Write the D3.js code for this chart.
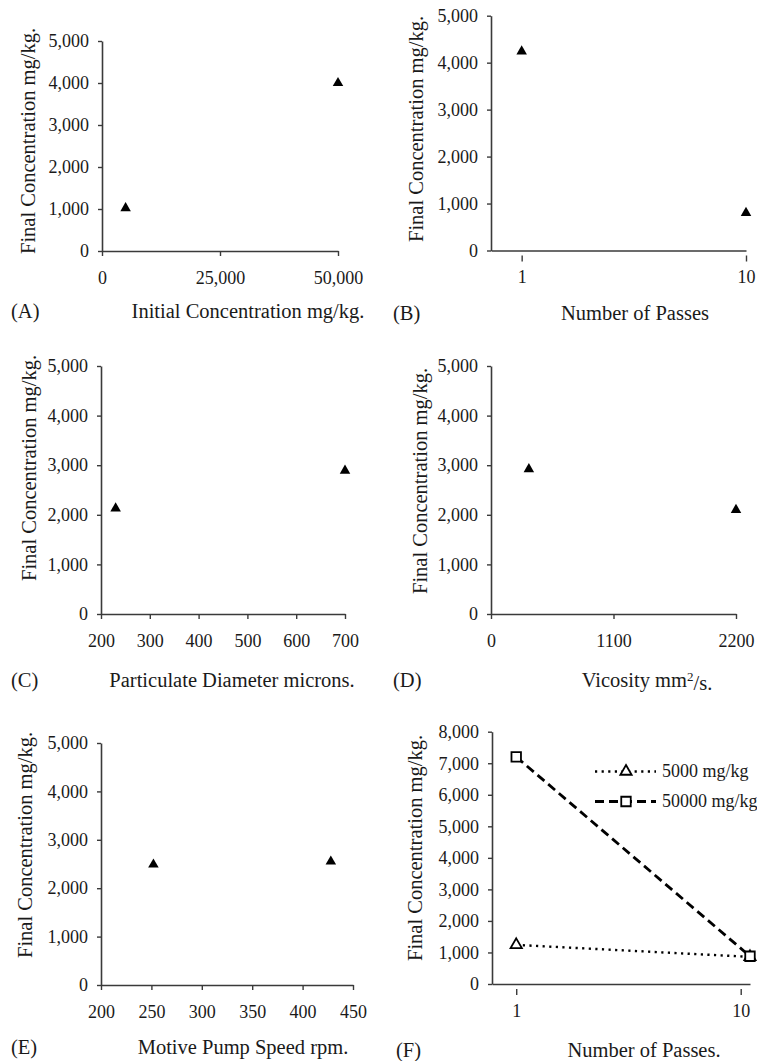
<!DOCTYPE html>
<html>
<head>
<meta charset="utf-8">
<script src="https://cdn.jsdelivr.net/npm/d3@7/dist/d3.min.js"></script>
<style>
  body { margin: 0; background: #fff; }
  text { font-family: "Liberation Serif", "Times New Roman", serif; fill: #1a1a1a; }
</style>
</head>
<body>
<div id="chart"></div>
<script>
// values
var initConc      = [5000, 50000];
var initConcFinal = [1020, 4000];
var passesB       = [1, 10];
var passesBFinal  = [4240, 800];
var diameter      = [230, 700];
var diameterFinal = [2130, 2890];
var viscosity     = [340, 2200];
var viscosityFinal = [2920, 2100];
var pumpSpeed     = [252, 428];
var pumpSpeedFinal = [2490, 2550];
var passesF       = [1, 11];
var final5000     = [1240, 860];
var final50000    = [7200, 880];
var seriesNames   = ['5000 mg/kg', '50000 mg/kg'];

var yTicks5k  = [0, 1000, 2000, 3000, 4000, 5000];
var yTicks8k  = [0, 1000, 2000, 3000, 4000, 5000, 6000, 7000, 8000];
var xTicksA   = [0, 25000, 50000];
var xTicksLog = [1, 10];
var xTicksC   = [200, 300, 400, 500, 600, 700];
var xTicksD   = [0, 1100, 2200];
var xTicksE   = [200, 250, 300, 350, 400, 450];

(function() {
    'use strict';

    var width = 757, height = 1061;
    var axisColor = '#3a3a3a';

    var svg = d3.select('#chart')
      .append('svg')
        .attr('width', width)
        .attr('height', height);

    svg.append('rect')
        .attr('width', width)
        .attr('height', height)
        .attr('fill', 'white');

    /*
     * one panel: axes, labels, letter; returns the group
     */
    function panel(c) {
        var g = svg.append('g');

        var xAxis = d3.axisBottom(c.x)
            .tickValues(c.xTicks)
            .tickFormat(c.xFormat)
            .tickSizeInner(5)
            .tickSizeOuter(0)
            .tickPadding(15);
        var gx = g.append('g')
            .attr('transform', 'translate(0,' + c.y.range()[0] + ')')
            .call(xAxis);

        var yAxis = d3.axisLeft(c.y)
            .tickValues(c.yTicks)
            .tickFormat(d3.format(','))
            .tickSizeInner(4)
            .tickSizeOuter(0)
            .tickPadding(9);
        var gy = g.append('g')
            .attr('transform', 'translate(' + c.x.range()[0] + ',0)')
            .call(yAxis);

        [gx, gy].forEach(function(a) {
            a.attr('font-family', null).attr('font-size', null);
            a.select('.domain').attr('stroke', axisColor).attr('stroke-width', 1.6);
            a.selectAll('.tick line').attr('stroke', axisColor).attr('stroke-width', 1.4);
            a.selectAll('.tick text').style('font-size', '18px').attr('fill', '#1a1a1a');
        });

        // log axes: tick marks sit a bit below the axis line
        if (c.looseTicks) {
            gx.selectAll('.tick line').attr('y1', 5).attr('y2', 11);
        }

        g.append('text')
            .attr('x', c.letterX)
            .attr('y', c.baseline)
            .style('font-size', '20.5px')
            .text(c.letter);

        var t = g.append('text')
            .attr('x', c.titleX)
            .attr('y', c.baseline)
            .attr('text-anchor', 'middle')
            .style('font-size', '20.5px')
            .text(c.xTitle);
        if (c.sup) {
            t.append('tspan').attr('dy', '-0.45em').style('font-size', '13px').text(c.sup);
            t.append('tspan').attr('dy', '0.45em').text(c.xTitleEnd);
        }

        g.append('text')
            .attr('transform', 'translate(' + c.yTitleX + ',' + c.yTitleY + ') rotate(-90)')
            .attr('text-anchor', 'middle')
            .attr('dy', '0.35em')
            .style('font-size', '20.5px')
            .text('Final Concentration mg/kg.');

        return g;
    }

    function triangles(g, x, y, xs, ys) {
        g.selectAll('path.pt')
            .data(xs.map(function(d, i) { return [d, ys[i]]; }))
            .enter().append('path')
            .attr('class', 'pt')
            .attr('d', d3.symbol(d3.symbolTriangle, 48))
            .attr('fill', '#000')
            .attr('transform', function(d) {
                return 'translate(' + x(d[0]) + ',' + y(d[1]) + ')';
            });
    }

    // (A)
    var xA = d3.scaleLinear().domain([0, 50000]).range([102, 338]);
    var yA = d3.scaleLinear().domain([0, 5000]).range([251, 41]);
    var gA = panel({x: xA, y: yA, xTicks: xTicksA, yTicks: yTicks5k, xFormat: d3.format(','),
        letter: '(A)', letterX: 11, baseline: 318, titleX: 248, xTitle: 'Initial Concentration mg/kg.',
        yTitleX: 28, yTitleY: 141});
    triangles(gA, xA, yA, initConc, initConcFinal);

    // (B)
    var xB = d3.scaleLog().domain([0.73, 10]).range([491, 746]);
    var yB = d3.scaleLinear().domain([0, 5000]).range([250.5, 15.7]);
    var gB = panel({x: xB, y: yB, xTicks: xTicksLog, yTicks: yTicks5k, xFormat: d3.format('d'),
        looseTicks: true,
        letter: '(B)', letterX: 393, baseline: 320, titleX: 635, xTitle: 'Number of Passes',
        yTitleX: 416, yTitleY: 129});
    triangles(gB, xB, yB, passesB, passesBFinal);

    // (C)
    var xC = d3.scaleLinear().domain([200, 700]).range([101, 345]);
    var yC = d3.scaleLinear().domain([0, 5000]).range([614, 366]);
    var gC = panel({x: xC, y: yC, xTicks: xTicksC, yTicks: yTicks5k, xFormat: d3.format('d'),
        letter: '(C)', letterX: 11, baseline: 687, titleX: 232, xTitle: 'Particulate Diameter microns.',
        yTitleX: 29, yTitleY: 468});
    triangles(gC, xC, yC, diameter, diameterFinal);

    // (D)
    var xD = d3.scaleLinear().domain([0, 2200]).range([491, 736]);
    var yD = d3.scaleLinear().domain([0, 5000]).range([614, 366]);
    var gD = panel({x: xD, y: yD, xTicks: xTicksD, yTicks: yTicks5k, xFormat: d3.format('d'),
        letter: '(D)', letterX: 393, baseline: 687, titleX: 647, xTitle: 'Vicosity mm', sup: '2', xTitleEnd: '/s.',
        yTitleX: 420, yTitleY: 481});
    triangles(gD, xD, yD, viscosity, viscosityFinal);

    // (E)
    var xE = d3.scaleLinear().domain([200, 450]).range([101, 353]);
    var yE = d3.scaleLinear().domain([0, 5000]).range([985, 743]);
    var gE = panel({x: xE, y: yE, xTicks: xTicksE, yTicks: yTicks5k, xFormat: d3.format('d'),
        letter: '(E)', letterX: 11, baseline: 1054, titleX: 243, xTitle: 'Motive Pump Speed rpm.',
        yTitleX: 25, yTitleY: 845});
    triangles(gE, xE, yE, pumpSpeed, pumpSpeedFinal);

    // (F) two series with lines
    var xF = d3.scaleLog().domain([0.78, 11]).range([492, 750]);
    var yF = d3.scaleLinear().domain([0, 8000]).range([984, 731.7]);
    var gF = panel({x: xF, y: yF, xTicks: xTicksLog, yTicks: yTicks8k, xFormat: d3.format('d'),
        looseTicks: true,
        letter: '(F)', letterX: 396, baseline: 1057, titleX: 644, xTitle: 'Number of Passes.',
        yTitleX: 415, yTitleY: 848});

    var line = d3.line()
        .x(function(d) { return xF(d[0]); })
        .y(function(d) { return yF(d[1]); });
    var s5000 = passesF.map(function(d, i) { return [d, final5000[i]]; });
    var s50000 = passesF.map(function(d, i) { return [d, final50000[i]]; });

    var styles = [
        {data: s5000,  dash: '2.2,4.4', width: 2.4, sym: d3.symbolTriangle, size: 55},
        {data: s50000, dash: '9,5',     width: 2.8, sym: d3.symbolSquare,   size: 90}
    ];

    styles.forEach(function(s, k) {
        gF.append('path')
            .datum(s.data)
            .attr('d', line)
            .attr('fill', 'none')
            .attr('stroke', '#000')
            .attr('stroke-width', s.width)
            .attr('stroke-dasharray', s.dash);
    });
    styles.forEach(function(s, k) {
        gF.selectAll('path.m' + k)
            .data(s.data)
            .enter().append('path')
            .attr('class', 'm' + k)
            .attr('d', d3.symbol(s.sym, s.size))
            .attr('fill', 'white')
            .attr('stroke', '#000')
            .attr('stroke-width', 1.8)
            .attr('transform', function(d) {
                return 'translate(' + xF(d[0]) + ',' + yF(d[1]) + ')';
            });

        // legend
        var ly = 771.5 + k * 30;
        gF.append('line')
            .attr('x1', 595).attr('x2', 656)
            .attr('y1', ly).attr('y2', ly)
            .attr('stroke', '#000')
            .attr('stroke-width', s.width)
            .attr('stroke-dasharray', s.dash);
        gF.append('path')
            .attr('d', d3.symbol(s.sym, s.size))
            .attr('fill', 'white')
            .attr('stroke', '#000')
            .attr('stroke-width', 1.8)
            .attr('transform', 'translate(626,' + ly + ')');
        gF.append('text')
            .attr('x', 662)
            .attr('y', ly)
            .attr('dy', '0.33em')
            .style('font-size', '18px')
            .text(seriesNames[k]);
    });

}());
</script>
</body>
</html>
